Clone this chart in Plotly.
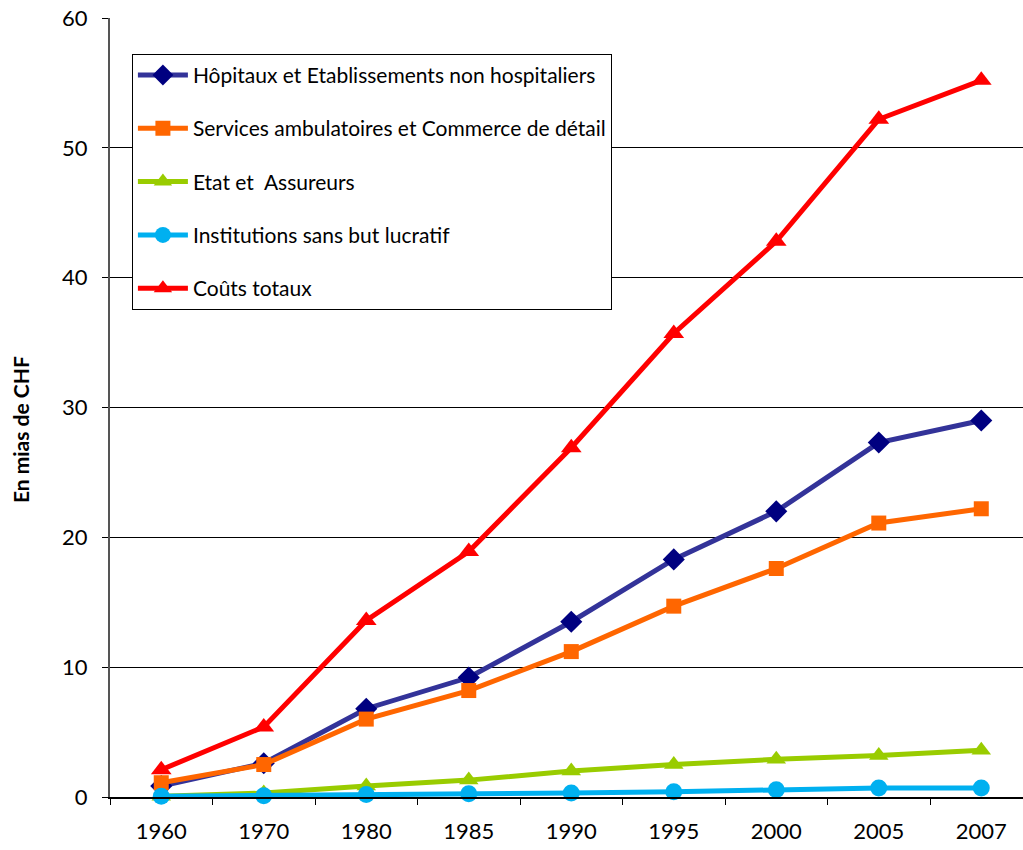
import plotly.graph_objects as go

years = ["1960", "1970", "1980", "1985", "1990", "1995", "2000", "2005", "2007"]
hopitaux = [0.85, 2.6, 6.8, 9.2, 13.5, 18.3, 22.0, 27.3, 29.0]
ambulatoires = [1.1, 2.5, 6.0, 8.2, 11.2, 14.7, 17.6, 21.1, 22.2]
etat = [0.05, 0.3, 0.85, 1.3, 2.0, 2.5, 2.9, 3.2, 3.6]
institutions = [0.05, 0.1, 0.2, 0.25, 0.3, 0.4, 0.55, 0.7, 0.7]
totaux = [2.1, 5.4, 13.6, 18.9, 26.9, 35.7, 42.8, 52.2, 55.2]
y_title = "En mias de CHF"

series = [
    ("Hôpitaux et Etablissements non hospitaliers", hopitaux, "#333399", "#000080", "diamond", 17),
    ("Services ambulatoires et Commerce de détail", ambulatoires, "#FF6600", "#FF6600", "square", 15),
    ("Etat et  Assureurs", etat, "#99CC00", "#99CC00", "triangle-up", 17),
    ("Institutions sans but lucratif", institutions, "#00B0F0", "#00B0F0", "circle", 17),
    ("Coûts totaux", totaux, "#FF0000", "#FF0000", "triangle-up", 18),
]

fig = go.Figure()
for i, (name, vals, lc, mc, sym, sz) in enumerate(series):
    fig.add_trace(go.Scatter(
        x=years, y=vals, name=name, mode="lines+markers",
        line=dict(color=lc, width=5),
        marker=dict(symbol=sym, size=sz, color=mc, line=dict(width=0)),
        legendgroup=f"g{i}", cliponaxis=False,
    ))

fig.add_annotation(
    text=f"<b>{y_title}</b>", textangle=-90, showarrow=False,
    xref="paper", yref="paper", x=0, y=0.471, xshift=-90,
    xanchor="center", yanchor="middle", font=dict(size=21),
)

fig.update_layout(
    width=1023, height=850,
    margin=dict(l=110, r=0, t=18, b=53, autoexpand=False),
    paper_bgcolor="white", plot_bgcolor="white",
    font=dict(family="Lato, Open Sans, sans-serif", color="black"),
    hovermode=False,
    legend=dict(
        x=0.024, y=0.954, xanchor="left", yanchor="top",
        bordercolor="black", borderwidth=1, bgcolor="white",
        font=dict(size=21, family="Lato, sans-serif"),
        tracegroupgap=23, itemwidth=50,
    ),
    xaxis=dict(
        type="category", range=[-0.5, 8.407], automargin=False,
        tickson="boundaries", ticks="outside", ticklen=6, tickcolor="black",
        showgrid=False, showline=True, linecolor="black", linewidth=2,
        tickfont=dict(size=22), zeroline=False, ticklabelstandoff=14,
    ),
    yaxis=dict(
        range=[0, 60], dtick=10, ticks="outside", ticklen=6, tickcolor="black",
        showgrid=True, gridcolor="black", gridwidth=1, automargin=False,
        showline=True, linecolor="#555555", linewidth=2,
        tickfont=dict(size=22), zeroline=False, ticklabelstandoff=10,
    ),
)

fig.write_html("out.html", config={"displayModeBar": False},
               post_script="document.body.style.margin='0';")
